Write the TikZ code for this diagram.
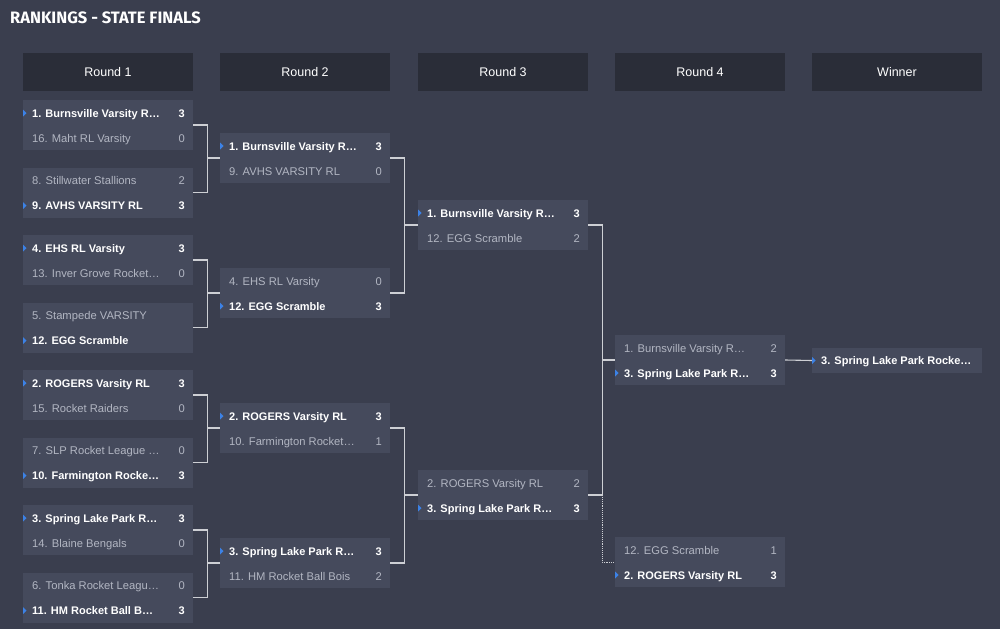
\documentclass[tikz,border=0pt]{standalone}
\usepackage{fontspec}
\setmainfont{Liberation Sans}
\newfontfamily\titlefont{Fira Sans}
\definecolor{bgc}{RGB}{58,62,78}
\definecolor{hdrc}{RGB}{42,45,56}
\definecolor{boxc}{RGB}{69,74,92}
\definecolor{losec}{RGB}{178,182,194}
\definecolor{markc}{RGB}{60,130,230}
\definecolor{connc}{RGB}{205,207,212}
\tikzset{
  mbox/.style={fill=boxc, minimum width=170pt, minimum height=50pt, inner sep=0pt},
  wbox/.style={fill=boxc, minimum width=170pt, minimum height=25pt, inner sep=0pt},
  hbox/.style={fill=hdrc, minimum width=170pt, minimum height=38pt, inner sep=0pt, text=white, font=\fontsize{12.5}{14}\selectfont},
  wintxt/.style={text=white, font=\bfseries\fontsize{11}{13}\selectfont, inner sep=0pt},
  losetxt/.style={text=losec, font=\fontsize{11.2}{13}\selectfont, inner sep=0pt},
  conn/.style={draw=connc, line width=1.1pt},
  dconn/.style={draw=connc, line width=0.9pt, densely dotted},
  mk/.style={fill=markc},
}
% #1 name, #2 x left, #3 y top, #4 winner row, #5 team1, #6 score1, #7 team2, #8 score2
\newcommand\bmatch[8]{%
  \ifnum#4=1
    \tikzset{rA/.style={wintxt},rB/.style={losetxt}}%
  \else
    \tikzset{rA/.style={losetxt},rB/.style={wintxt}}%
  \fi
  \node[mbox] (#1) at (#2+85,#3+25) {};
  \ifnum#4=1
    \fill[mk] (#2,#3+9.5) -- (#2+3.5,#3+13) -- (#2,#3+16.5) -- cycle;
  \else
    \fill[mk] (#2,#3+34.5) -- (#2+3.5,#3+38) -- (#2,#3+41.5) -- cycle;
  \fi
  \node[rA, anchor=base west] (#1-ta) at (#2+9,#3+17.1) {#5};
  \node[rA, anchor=base east] (#1-sa) at (#2+162,#3+17.1) {#6};
  \node[rB, anchor=base west] (#1-tb) at (#2+9,#3+42.1) {#7};
  \node[rB, anchor=base east] (#1-sb) at (#2+162,#3+42.1) {#8};
}
\begin{document}
\begin{tikzpicture}[x=1pt,y=-1pt]
\useasboundingbox (0,0) rectangle (1000,629);
\fill[bgc] (0,0) rectangle (1000,629);
\node[anchor=base west, text=white, inner sep=0pt, font=\titlefont\bfseries\fontsize{16.5}{19}\selectfont] (title) at (10,23.5) {RANKINGS - STATE FINALS};
% headers
\node[hbox] (h1) at (108,72) {Round 1};
\node[hbox] (h2) at (305,72) {Round 2};
\node[hbox] (h3) at (503,72) {Round 3};
\node[hbox] (h4) at (700,72) {Round 4};
\node[hbox] (h5) at (897,72) {Winner};
% round 1
\bmatch{a1}{23}{100}{1}{1. Burnsville Varsity R…}{3}{16. Maht RL Varsity}{0}
\bmatch{a2}{23}{167.5}{2}{8. Stillwater Stallions}{2}{9. AVHS VARSITY RL}{3}
\bmatch{a3}{23}{235}{1}{4. EHS RL Varsity}{3}{13. Inver Grove Rocket…}{0}
\bmatch{a4}{23}{302.5}{2}{5. Stampede VARSITY}{}{12. EGG Scramble}{}
\bmatch{a5}{23}{370}{1}{2. ROGERS Varsity RL}{3}{15. Rocket Raiders}{0}
\bmatch{a6}{23}{437.5}{2}{7. SLP Rocket League …}{0}{10. Farmington Rocke…}{3}
\bmatch{a7}{23}{505}{1}{3. Spring Lake Park R…}{3}{14. Blaine Bengals}{0}
\bmatch{a8}{23}{572.5}{2}{6. Tonka Rocket Leagu…}{0}{11. HM Rocket Ball B…}{3}
% round 2
\bmatch{b1}{220}{133}{1}{1. Burnsville Varsity R…}{3}{9. AVHS VARSITY RL}{0}
\bmatch{b2}{220}{268}{2}{4. EHS RL Varsity}{0}{12. EGG Scramble}{3}
\bmatch{b3}{220}{403}{1}{2. ROGERS Varsity RL}{3}{10. Farmington Rocket…}{1}
\bmatch{b4}{220}{538}{1}{3. Spring Lake Park R…}{3}{11. HM Rocket Ball Bois}{2}
% round 3
\bmatch{c1}{418}{200}{1}{1. Burnsville Varsity R…}{3}{12. EGG Scramble}{2}
\bmatch{c2}{418}{470}{2}{2. ROGERS Varsity RL}{2}{3. Spring Lake Park R…}{3}
% round 4
\bmatch{d1}{615}{335}{2}{1. Burnsville Varsity R…}{2}{3. Spring Lake Park R…}{3}
\bmatch{d2}{615}{537}{2}{12. EGG Scramble}{1}{2. ROGERS Varsity RL}{3}
% winner
\node[wbox] (w) at (897,360.5) {};
\fill[mk] (812,357) -- (815.5,360.5) -- (812,364) -- cycle;
\node[wintxt, anchor=base west] (wt) at (821,364.6) {3. Spring Lake Park Rocke…};
% connectors
\draw[conn] (a1.east) -- ++(14,0) |- (b1.west);
\draw[conn] (a2.east) -- ++(14,0) |- (b1.west);
\draw[conn] (a3.east) -- ++(14,0) |- (b2.west);
\draw[conn] (a4.east) -- ++(14,0) |- (b2.west);
\draw[conn] (a5.east) -- ++(14,0) |- (b3.west);
\draw[conn] (a6.east) -- ++(14,0) |- (b3.west);
\draw[conn] (a7.east) -- ++(14,0) |- (b4.west);
\draw[conn] (a8.east) -- ++(14,0) |- (b4.west);
\draw[conn] (b1.east) -- ++(14,0) |- (c1.west);
\draw[conn] (b2.east) -- ++(14,0) |- (c1.west);
\draw[conn] (b3.east) -- ++(14,0) |- (c2.west);
\draw[conn] (b4.east) -- ++(14,0) |- (c2.west);
\draw[conn] (c1.east) -- ++(14,0) |- (d1.west);
\draw[conn] (c2.east) -- ++(14,0) |- (d1.west);
\draw[dconn] ([xshift=14pt]c2.east) |- (d2.west);
\draw[conn] (d1.east) -- (w.west);
\end{tikzpicture}
\end{document}
